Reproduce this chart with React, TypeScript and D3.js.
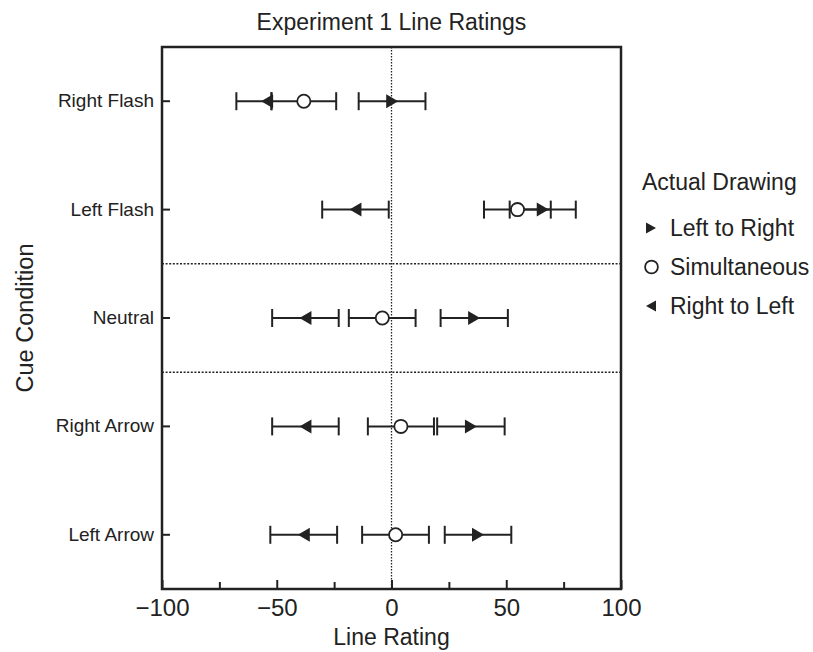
import React, { useEffect, useRef } from "react";
import * as d3 from "d3";

// cue conditions, top to bottom
const conditions = ["Right Flash", "Left Flash", "Neutral", "Right Arrow", "Left Arrow"];

// mean line rating and error bar ends, per actual drawing
const leftToRightMean = [0.3, 65.9, 36.0, 34.6, 37.7];
const leftToRightLow = [-14.3, 51.5, 21.4, 19.9, 23.2];
const leftToRightHigh = [14.8, 80.3, 50.7, 49.3, 52.2];
const simultaneousMean = [-38.2, 54.9, -4.0, 4.1, 1.8];
const simultaneousLow = [-52.3, 40.3, -18.6, -10.3, -12.8];
const simultaneousHigh = [-24.1, 69.4, 10.5, 18.5, 16.3];
const rightToLeftMean = [-54.2, -15.7, -37.5, -37.5, -38.2];
const rightToLeftLow = [-67.6, -30.2, -52.0, -52.0, -52.8];
const rightToLeftHigh = [-52.3, -1.2, -23.0, -23.0, -23.7];

const xTicks = [-100, -75, -50, -25, 0, 25, 50, 75, 100];
const xLabelled = [-100, -50, 0, 50, 100];
// lines drawn between these groups
const separators = ["Left Flash", "Neutral"];

const legendItems = ["Left to Right", "Simultaneous", "Right to Left"];

const App = () => {
  const ref = useRef<SVGSVGElement>(null);

  useEffect(() => {
    const width = 813,
      height = 652,
      left = 162,
      right = 621,
      top = 47,
      bottom = 589,
      ink = "#222",
      font = "'Liberation Sans', Arial, Helvetica, sans-serif";

    const x = d3.scaleLinear().domain([-100, 100]).range([left, right]);
    const y = d3.scaleBand().domain(conditions).range([top, bottom]);
    const cy = (c: string) => (y(c) as number) + y.bandwidth() / 2;

    const svg = d3.select(ref.current);
    svg.selectAll("*").remove();
    svg.attr("width", width).attr("height", height).style("font-family", font);

    // zero line
    svg
      .append("line")
      .attr("x1", x(0))
      .attr("x2", x(0))
      .attr("y1", top)
      .attr("y2", bottom)
      .attr("stroke", ink)
      .attr("stroke-width", 1.3)
      .attr("stroke-dasharray", "1.5,1.5");

    // group separators
    svg
      .selectAll("line.sep")
      .data(separators)
      .enter()
      .append("line")
      .attr("class", "sep")
      .attr("x1", left)
      .attr("x2", right)
      .attr("y1", d => (y(d) as number) + y.bandwidth())
      .attr("y2", d => (y(d) as number) + y.bandwidth())
      .attr("stroke", ink)
      .attr("stroke-width", 1.4)
      .attr("stroke-dasharray", "2,1.6");

    // x axis
    const xAxis = d3
      .axisBottom(x)
      .tickValues(xTicks)
      .tickSizeInner(-7)
      .tickSizeOuter(0)
      .tickPadding(10)
      .tickFormat(d => (xLabelled.includes(+d) ? d3.format("d")(+d) : ""));
    const gx = svg
      .append("g")
      .attr("transform", "translate(0," + bottom + ")")
      .call(xAxis);
    gx.select(".domain").remove();
    gx.selectAll(".tick line")
      .attr("y2", (d: any) => (xLabelled.includes(d) ? -9 : -7))
      .attr("stroke", ink)
      .attr("stroke-width", 2);
    gx.selectAll(".tick text")
      .attr("fill", ink)
      .style("font-size", "24px")
      .style("font-family", font);

    // y axis
    const yAxis = d3.axisLeft(y).tickSizeInner(-8).tickSizeOuter(0).tickPadding(8);
    const gy = svg
      .append("g")
      .attr("transform", "translate(" + left + ",0)")
      .call(yAxis);
    gy.select(".domain").remove();
    gy.selectAll(".tick line").attr("stroke", ink).attr("stroke-width", 2);
    gy.selectAll(".tick text")
      .attr("fill", ink)
      .style("font-size", "19px")
      .style("font-family", font);

    // frame
    svg
      .append("rect")
      .attr("x", left)
      .attr("y", top)
      .attr("width", right - left)
      .attr("height", bottom - top)
      .attr("fill", "none")
      .attr("stroke", ink)
      .attr("stroke-width", 2.5);

    const series = [
      { key: "lr", lo: leftToRightLow, hi: leftToRightHigh },
      { key: "rl", lo: rightToLeftLow, hi: rightToLeftHigh },
      { key: "sim", lo: simultaneousLow, hi: simultaneousHigh },
    ];

    const capH = 9;
    series.forEach(s => {
      const rows = conditions.map((c, i) => ({ c, lo: s.lo[i], hi: s.hi[i] }));
      const g = svg.append("g").attr("class", "bars-" + s.key);
      g.selectAll("line.bar")
        .data(rows)
        .enter()
        .append("line")
        .attr("x1", d => x(d.lo))
        .attr("x2", d => x(d.hi))
        .attr("y1", d => cy(d.c))
        .attr("y2", d => cy(d.c))
        .attr("stroke", ink)
        .attr("stroke-width", 2);
      g.selectAll("line.cap")
        .data(rows.flatMap(d => [{ c: d.c, v: d.lo }, { c: d.c, v: d.hi }]))
        .enter()
        .append("line")
        .attr("x1", d => x(d.v))
        .attr("x2", d => x(d.v))
        .attr("y1", d => cy(d.c) - capH)
        .attr("y2", d => cy(d.c) + capH)
        .attr("stroke", ink)
        .attr("stroke-width", 2);
    });

    const triRight = (w: number, h: number) =>
      "M" + -w / 2 + "," + -h / 2 + "L" + w / 2 + ",0L" + -w / 2 + "," + h / 2 + "Z";
    const triLeft = (w: number, h: number) =>
      "M" + w / 2 + "," + -h / 2 + "L" + -w / 2 + ",0L" + w / 2 + "," + h / 2 + "Z";

    // markers
    svg
      .selectAll("path.rl")
      .data(conditions)
      .enter()
      .append("path")
      .attr("class", "rl")
      .attr("d", triLeft(12, 14))
      .attr("transform", (c, i) => "translate(" + x(rightToLeftMean[i]) + "," + cy(c) + ")")
      .attr("fill", ink);
    svg
      .selectAll("path.lr")
      .data(conditions)
      .enter()
      .append("path")
      .attr("class", "lr")
      .attr("d", triRight(12, 14))
      .attr("transform", (c, i) => "translate(" + x(leftToRightMean[i]) + "," + cy(c) + ")")
      .attr("fill", ink);
    svg
      .selectAll("circle.sim")
      .data(conditions)
      .enter()
      .append("circle")
      .attr("class", "sim")
      .attr("cx", (c, i) => x(simultaneousMean[i]))
      .attr("cy", c => cy(c))
      .attr("r", 6.6)
      .attr("fill", "#fff")
      .attr("stroke", ink)
      .attr("stroke-width", 1.8);

    // titles
    svg
      .append("text")
      .attr("x", (left + right) / 2)
      .attr("y", 30)
      .attr("text-anchor", "middle")
      .attr("fill", ink)
      .style("font-size", "23px")
      .text("Experiment 1 Line Ratings");
    svg
      .append("text")
      .attr("x", (left + right) / 2)
      .attr("y", 645)
      .attr("text-anchor", "middle")
      .attr("fill", ink)
      .style("font-size", "23px")
      .text("Line Rating");
    svg
      .append("text")
      .attr("transform", "translate(33," + (top + bottom) / 2 + ") rotate(-90)")
      .attr("text-anchor", "middle")
      .attr("fill", ink)
      .style("font-size", "23.5px")
      .text("Cue Condition");

    // legend
    const legend = svg.append("g").attr("transform", "translate(642,0)");
    legend
      .append("text")
      .attr("x", 0)
      .attr("y", 190)
      .attr("fill", ink)
      .style("font-size", "23px")
      .text("Actual Drawing");
    const ly = d3.scalePoint().domain(legendItems).range([228, 306]);
    legend
      .selectAll("text.item")
      .data(legendItems)
      .enter()
      .append("text")
      .attr("class", "item")
      .attr("x", 28)
      .attr("y", d => (ly(d) as number) + 8.3)
      .attr("fill", ink)
      .style("font-size", "23px")
      .text(d => d);
    legend
      .append("path")
      .attr("d", triRight(10, 11))
      .attr("transform", "translate(9," + ly("Left to Right") + ")")
      .attr("fill", ink);
    legend
      .append("circle")
      .attr("cx", 9.5)
      .attr("cy", ly("Simultaneous") as number)
      .attr("r", 6.4)
      .attr("fill", "#fff")
      .attr("stroke", ink)
      .attr("stroke-width", 1.8);
    legend
      .append("path")
      .attr("d", triLeft(10, 11))
      .attr("transform", "translate(9," + ly("Right to Left") + ")")
      .attr("fill", ink);
  }, []);

  return <svg ref={ref} style={{ position: "absolute", left: 0, top: 0 }} />;
};

export default App;
